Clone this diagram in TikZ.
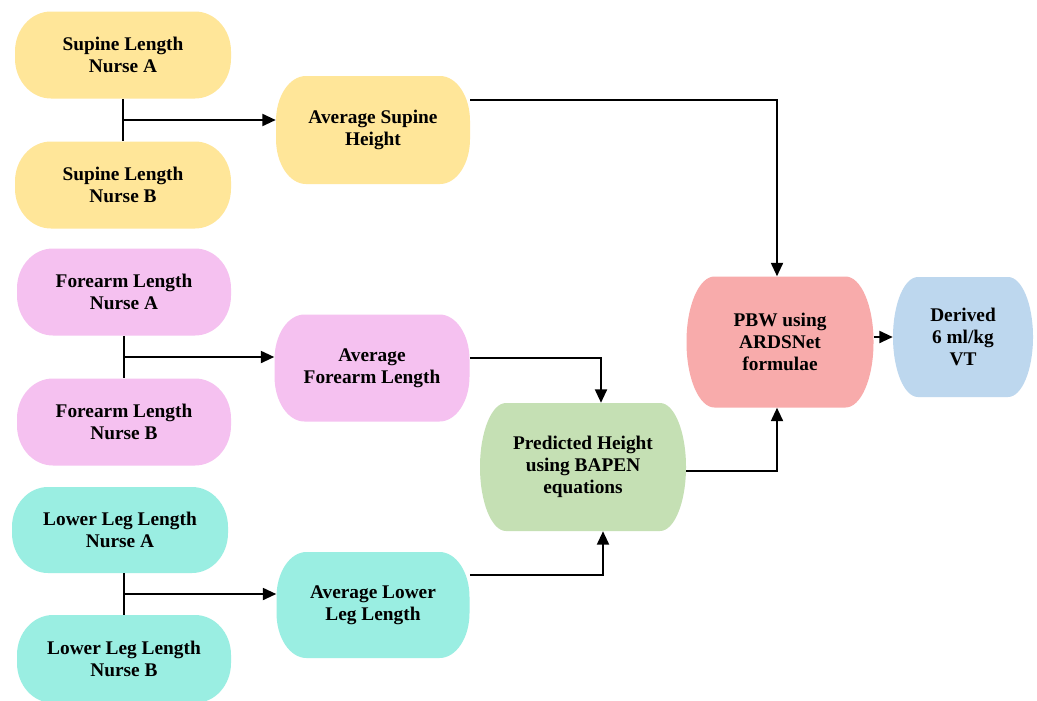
\documentclass[tikz,border=0pt]{standalone}
\usepackage{fontspec}
\setmainfont{Liberation Serif}
\usetikzlibrary{arrows.meta,calc}
\definecolor{cyel}{HTML}{FFE699}
\definecolor{cpink}{HTML}{F5C1F0}
\definecolor{ccyan}{HTML}{9AEEE2}
\definecolor{cgreen}{HTML}{C5E0B4}
\definecolor{cred}{HTML}{F8ABAB}
\definecolor{cblue}{HTML}{BDD7EE}
\def\u{0.75pt}
% #1 name, #2 cx, #3 cy (pixels, downwards), #4 w, #5 h, #6 rx, #7 ry, #8 colour, #9 text
\newcommand\blob[9]{%
  \fill[#8] ({#2-#4/2+#6},{-#3+#5/2}) -- ({#2+#4/2-#6},{-#3+#5/2})
    arc[start angle=90,end angle=0,x radius=#6*\u,y radius=#7*\u]
    -- ({#2+#4/2},{-#3-#5/2+#7})
    arc[start angle=0,end angle=-90,x radius=#6*\u,y radius=#7*\u]
    -- ({#2-#4/2+#6},{-#3-#5/2})
    arc[start angle=270,end angle=180,x radius=#6*\u,y radius=#7*\u]
    -- ({#2-#4/2},{-#3+#5/2-#7})
    arc[start angle=180,end angle=90,x radius=#6*\u,y radius=#7*\u] -- cycle;
  \node[box,minimum width=#4*\u,minimum height=#5*\u] (#1) at (#2,-#3) {#9};}
\tikzset{
  box/.style={draw=none,inner sep=0pt,align=center,
    font=\fontsize{14.5}{16.5}\selectfont\bfseries},
  conn/.style={line width=1.4pt,black},
  arr/.style={conn,-{Triangle[length=10pt,width=9pt]}}
}
\begin{document}
\begin{tikzpicture}[x=\u,y=\u]
\useasboundingbox (0,0) rectangle (1037,-700);
\fill[white] (0,0) rectangle (1037,-700);

\blob{supA}{123}{55}{216}{87}{36}{40}{cyel}{Supine Length\\Nurse A}
\blob{supB}{123}{185}{216}{87}{36}{40}{cyel}{Supine Length\\Nurse B}
\blob{avgS}{373}{130}{194}{108}{30}{45}{cyel}{Average Supine\\Height}

\blob{forA}{124}{292}{214}{87}{36}{40}{cpink}{Forearm Length\\Nurse A}
\blob{forB}{124}{422}{214}{87}{36}{40}{cpink}{Forearm Length\\Nurse B}
\blob{avgF}{372}{368}{195}{107}{30}{45}{cpink}{Average\\Forearm Length}

\blob{lowA}{120}{530}{216}{86}{36}{40}{ccyan}{Lower Leg Length\\Nurse A}
\blob{lowB}{124}{659}{214}{88}{36}{40}{ccyan}{Lower Leg Length\\Nurse B}
\blob{avgL}{373}{605}{193}{106}{30}{45}{ccyan}{Average Lower\\Leg Length}

\blob{pred}{583}{467}{206}{128}{26}{64}{cgreen}{Predicted Height\\using BAPEN\\equations}
\blob{pbw}{780}{342}{187}{131}{28}{65}{cred}{PBW using\\ARDSNet\\formulae}
\blob{der}{963}{337}{140}{120}{25}{60}{cblue}{Derived\\6 ml/kg\\VT}

% junctions
\coordinate (j1) at ($(supA.south)!0.5!(supB.north)$);
\coordinate (j2) at ($(forA.south)!0.5!(forB.north)$);
\coordinate (j3) at ($(lowA.south -| lowB.north)!0.5!(lowB.north)$);
\draw[conn] (supA.south) -- (supB.north);
\draw[conn] (forA.south) -- (forB.north);
\draw[conn] (lowA.south -| lowB.north) -- (lowB.north);
\draw[arr] (j1) -- (j1 -| avgS.west);
\draw[arr] (j2) -- (j2 -| avgF.west);
\draw[arr] (j3) -- (j3 -| avgL.west);

\draw[arr] ($(avgS.east)+(0,30)$) -| ($(pbw.north)+(-3,0)$);
\draw[arr] ($(avgF.east)+(0,10)$) -| ($(pred.north)+(18,0)$);
\draw[arr] ($(avgL.east)+(0,30)$) -| ($(pred.south)+(20,0)$);
\draw[arr] ($(pred.east)+(0,-4)$) -| ($(pbw.south)+(-3,0)$);
\draw[arr] (pbw.east |- der.west) -- (der.west);
\end{tikzpicture}
\end{document}
